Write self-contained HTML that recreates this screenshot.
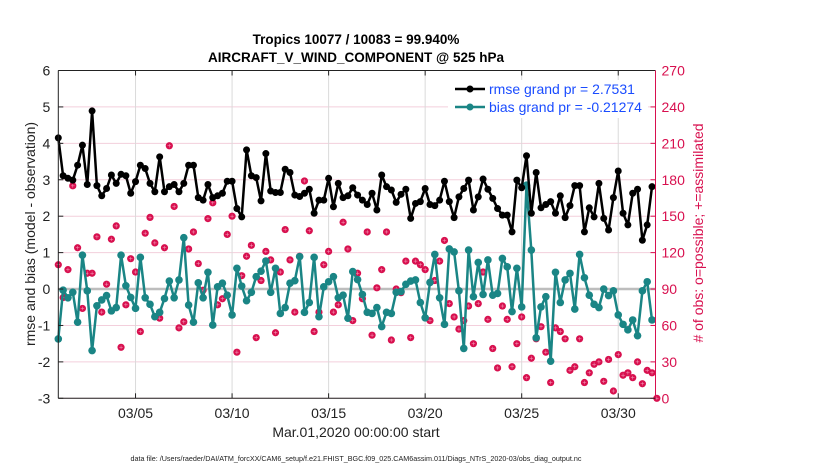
<!DOCTYPE html>
<html><head><meta charset="utf-8"><style>
html,body{margin:0;padding:0;background:#fff;}
svg{display:block;font-family:"Liberation Sans",Arial,sans-serif;}
</style></head><body>
<svg id="chart" width="830" height="470" viewBox="0 0 830 470" xmlns="http://www.w3.org/2000/svg">
<g>
<text x="356" y="44" text-anchor="middle" font-size="13.5" font-weight="bold" fill="#000">Tropics 10077 / 10083 = 99.940%</text>
<text x="356" y="62" text-anchor="middle" font-size="13.5" font-weight="bold" fill="#000">AIRCRAFT_V_WIND_COMPONENT @ 525 hPa</text>
</g>
<g id="grid"></g>
<g id="marks"></g>
<g id="axes"></g>
<text transform="translate(35,234) rotate(-90)" text-anchor="middle" font-size="14" fill="#222">rmse and bias (model - observation)</text>
<text transform="translate(703,233) rotate(-90)" text-anchor="middle" font-size="14" fill="#d8104f"># of obs: o=possible; +=assimilated</text>
<text x="356" y="437" text-anchor="middle" font-size="14" fill="#222">Mar.01,2020 00:00:00 start</text>
<text x="356" y="461" text-anchor="middle" font-size="7.2" fill="#222">data file: /Users/raeder/DAI/ATM_forcXX/CAM6_setup/f.e21.FHIST_BGC.f09_025.CAM6assim.011/Diags_NTrS_2020-03/obs_diag_output.nc</text>
<g>
<rect x="448" y="80" width="200" height="38" fill="#fff"/>
<line x1="455" y1="89" x2="485" y2="89" stroke="#000" stroke-width="2.5"/>
<circle cx="470" cy="89" r="3.5" fill="#000"/>
<text x="489" y="94" font-size="14" fill="#1a4cff">rmse grand pr = 2.7531</text>
<line x1="455" y1="107" x2="485" y2="107" stroke="#1a8585" stroke-width="2.5"/>
<circle cx="470" cy="107" r="3.5" fill="#1a8585"/>
<text x="489" y="112" font-size="14" fill="#1a4cff">bias grand pr = -0.21274</text>
</g>
</svg>
<script>
const xTickDays = [5, 10, 15, 20, 25, 30];
const xTickLabels = ["03/05", "03/10", "03/15", "03/20", "03/25", "03/30"];
const yTicks = [-3, -2, -1, 0, 1, 2, 3, 4, 5, 6];
const rightTicks = [0, 30, 60, 90, 120, 150, 180, 210, 240, 270];
const startDay = 1;
const stepDays = 0.25;
const rmse = [4.15,3.11,3.04,2.99,3.40,3.95,2.87,4.89,2.84,2.56,2.76,3.13,2.90,3.15,3.11,2.63,2.95,3.40,3.31,2.90,2.67,3.63,2.67,2.81,2.87,2.67,2.90,3.40,3.40,2.51,2.44,
2.87,2.51,2.56,2.63,2.96,2.96,2.21,1.98,3.82,3.11,3.06,2.42,3.72,2.69,2.65,2.65,3.29,3.20,2.58,2.54,2.63,2.74,2.08,2.44,2.44,3.04,2.26,2.90,2.51,2.56,2.78,
2.58,2.44,2.32,2.63,2.17,3.13,2.81,2.72,2.38,2.60,2.74,1.94,2.35,2.40,2.76,2.32,2.29,2.44,2.96,2.40,1.96,2.53,2.76,2.99,2.17,2.53,3.02,2.74,2.49,2.21,2.03,
2.03,1.57,2.99,2.78,3.66,2.08,3.20,2.23,2.32,2.40,2.08,2.56,1.96,2.29,2.84,2.84,1.57,2.23,1.98,2.90,1.94,1.62,2.51,3.24,2.08,1.76,2.63,2.74,1.34,1.76,2.81];
const bias = [-1.37,-0.03,-0.24,-0.09,-0.91,0.93,-0.05,-1.69,-0.46,-0.30,-0.18,-0.60,-0.51,0.93,0.09,-0.23,-0.53,0.87,-0.24,-0.42,-0.76,-0.64,-0.26,0.22,-0.24,0.25,1.41,-0.44,-0.91,0.17,-0.24,
0.46,-0.99,0.06,0.16,-0.17,-0.71,0.57,0.08,-0.32,-0.09,0.34,0.49,0.77,-0.09,0.57,-0.67,-0.51,0.16,0.23,0.89,-0.64,-0.37,0.87,-0.76,0.06,0.20,0.34,-0.24,-0.17,-0.80,0.48,
0.26,-0.15,-0.64,-0.67,-0.51,-1.03,-0.64,-0.67,-0.09,-0.07,0.13,0.22,0.25,-0.37,-0.79,0.18,0.95,-0.24,-0.97,1.10,1.02,-0.05,-1.63,1.07,-0.21,0.73,-0.15,0.80,-0.17,-0.12,0.84,
0.61,-0.62,0.57,-0.49,2.85,1.07,-1.34,-0.49,-0.21,-1.98,0.46,-0.37,0.25,0.43,-0.55,0.95,0.31,-0.17,-0.42,-0.51,0.00,-0.18,-0.05,-0.71,-0.97,-1.12,-0.85,-1.28,-0.05,0.20,-0.85];
const obsCount = [110,83,106,175,124,74,103,103,133,71,94,131,142,42,77,115,104,55,136,149,128,66,124,208,158,58,63,123,137,111,89,
148,161,77,82,135,150,38,101,117,126,50,97,121,114,54,104,139,114,71,117,179,138,55,71,110,121,71,77,145,123,64,
103,82,137,52,91,106,137,48,90,87,113,50,113,110,106,64,97,113,130,78,67,57,64,76,45,78,104,65,41,25,76,
65,26,45,67,17,33,49,59,38,13,58,55,49,23,26,49,13,21,28,30,14,32,6,36,19,21,17,30,12,23,21,0];

const NS = "http://www.w3.org/2000/svg";
const L = 58.3, R = 655.5, T = 70.5, B = 398.3;
const xMin = 1, xMax = 31.93;
function xs(d) { return L + (d - xMin) / (xMax - xMin) * (R - L); }
function ys(v) { return B - (v + 3) / 9 * (B - T); }
function yr(c) { return B - c / 270 * (B - T); }
function mk(tag, attrs, parent) {
  const e = document.createElementNS(NS, tag);
  for (const k in attrs) e.setAttribute(k, attrs[k]);
  parent.appendChild(e);
  return e;
}
const grid = document.getElementById('grid');
const marks = document.getElementById('marks');
const axes = document.getElementById('axes');

yTicks.forEach(v => {
  const g = mk('line', {x1: L, x2: R, y1: ys(v), y2: ys(v), stroke: '#f3cfdc', 'stroke-width': 1}, grid);
  
  
  const t = mk('text', {x: L - 8, y: ys(v) + 5, 'text-anchor': 'end', 'font-size': 14, fill: '#222'}, axes);
  
  
  t.textContent = v;
  const tk = mk('line', {x1: L, x2: L + 5, y1: ys(v), y2: ys(v), stroke: '#222'}, axes);
  
  
});
xTickDays.forEach((d, i) => {
  const g = mk('line', {x1: xs(d), x2: xs(d), y1: T, y2: B, stroke: '#dadada', 'stroke-width': 1}, grid);
  
  
  const t = mk('text', {x: xs(d), y: 418, 'text-anchor': 'middle', 'font-size': 14, fill: '#222'}, axes);
  
  
  t.textContent = xTickLabels[i];
  const tk = mk('line', {x1: xs(d), x2: xs(d), y1: B, y2: B - 5, stroke: '#222'}, axes);
  
  
  const tk2 = mk('line', {x1: xs(d), x2: xs(d), y1: T, y2: T + 5, stroke: '#222'}, axes);
  
  
});
rightTicks.forEach(c => {
  const t = mk('text', {x: R + 6, y: yr(c) + 5, 'font-size': 14, fill: '#d8104f'}, axes);
  
  
  t.textContent = c;
  const tk = mk('line', {x1: R, x2: R - 5, y1: yr(c), y2: yr(c), stroke: '#d8104f'}, axes);
  
  
});
const frameT = mk('line', {x1: L, x2: R, y1: T, y2: T, stroke: '#222'}, axes);


const frameL = mk('line', {x1: L, x2: L, y1: T, y2: B, stroke: '#222'}, axes);


const frameB = mk('line', {x1: L, x2: R, y1: B, y2: B, stroke: '#222'}, axes);


const frameR = mk('line', {x1: R, x2: R, y1: T, y2: B, stroke: '#d8104f'}, axes);



const zero = mk('line', {x1: L, x2: R, y1: ys(0), y2: ys(0), stroke: '#bdbdbd', 'stroke-width': 2.5}, marks);



obsCount.forEach((c, i) => {
  const x = xs(startDay + i * stepDays), y = yr(c);
  const g = mk('g', {}, marks);
  
  
  mk('circle', {cx: x, cy: y, r: 3.6, fill: '#d8104f'}, g);
  mk('path', {d: `M${x-1.8} ${y}H${x+1.8}M${x} ${y-1.8}V${y+1.8}`, stroke: '#f4a0bc', 'stroke-width': 0.5}, g);
});

function series(vals, color, name, r) {
  const pts = vals.map((v, i) => xs(startDay + i * stepDays).toFixed(1) + ',' + ys(v).toFixed(1));
  const pl = mk('polyline', {points: pts.join(' '), fill: 'none', stroke: color, 'stroke-width': 2.5, 'stroke-linejoin': 'round'}, marks);
  
  
  vals.forEach((v, i) => {
    const c = mk('circle', {cx: xs(startDay + i * stepDays), cy: ys(v), r: r, fill: color}, marks);
    
    
  });
}
series(bias, '#1a8585', 'bias', 3.8);
series(rmse, '#000', 'rmse', 3.5);
</script>
</body></html>
